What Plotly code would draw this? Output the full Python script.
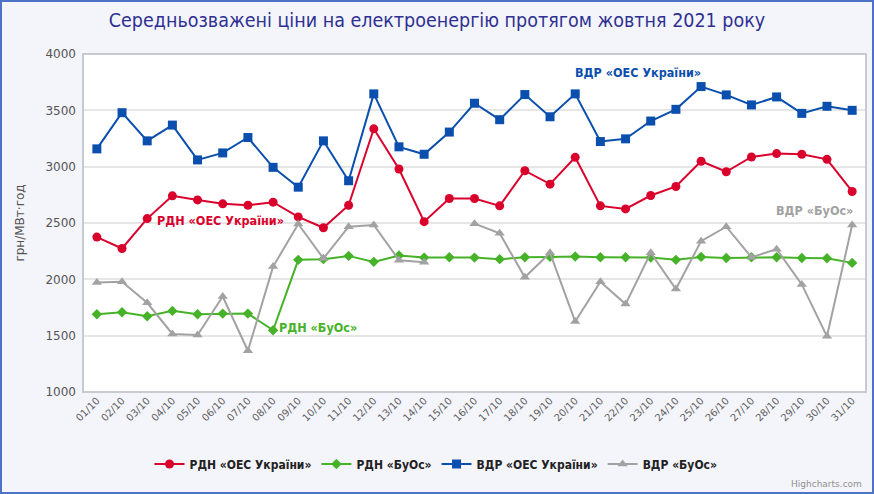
import plotly.graph_objects as go

days = [f"{d:02d}/10" for d in range(1, 32)]

rdn_oes = [2375, 2274, 2539, 2741, 2705, 2670, 2658, 2685, 2554, 2458, 2658,
           3336, 2979, 2512, 2717, 2717, 2652, 2964, 2845, 3083,
           2652, 2625, 2744, 2824, 3048, 2955, 3086, 3116, 3110, 3065, 2780]
rdn_buos = [1690, 1708, 1673, 1720, 1690, 1696, 1696, 1548, 2173, 2179, 2208,
            2155, 2211, 2193, 2196, 2193, 2179, 2196, 2199, 2202,
            2196, 2196, 2193, 2173, 2199, 2190, 2196, 2196, 2190, 2187, 2146]
vdr_oes = [3158, 3479, 3229, 3369, 3060, 3122, 3259, 2994, 2818, 3229, 2875,
           3646, 3176, 3110, 3307, 3563, 3417, 3640, 3443, 3646,
           3223, 3247, 3405, 3509, 3711, 3637, 3548, 3619, 3473, 3536, 3500]
vdr_buos = [1973, 1979, 1792, 1515, 1506, 1848, 1366, 2113, 2491, 2185, 2467,
            2482, 2170, 2152, None, 2494, 2408, 2018, 2235, 1625,
            1979, 1780, 2235, 1914, 2339, 2467, 2196, 2268, 1955, 1494, 2482]

names = ["РДН «ОЕС України»", "РДН «БуОс»", "ВДР «ОЕС України»", "ВДР «БуОс»"]
colors = ["#d9002c", "#45b227", "#0b4fae", "#a2a2a2"]
symbols = ["circle", "diamond", "square", "triangle-up"]
sizes = [9, 8, 9, 9]
series = [rdn_oes, rdn_buos, vdr_oes, vdr_buos]

# label anchors (category index, value)
label_x = [4.9, 8.8, 21.5, 28.5]
label_y = [2518, 1571, 3839, 2607]

fig = go.Figure()
for name, vals, c, s, sz in zip(names, series, colors, symbols, sizes):
    fig.add_trace(go.Scatter(
        x=days, y=vals, name=name, mode="lines+markers",
        line=dict(color=c, width=2),
        marker=dict(color=c, symbol=s, size=sz),
        connectgaps=False,
    ))

for name, c, lx, ly in zip(names, colors, label_x, label_y):
    fig.add_annotation(x=lx, y=ly, xref="x", yref="y", text=f"<b>{name}</b>",
                       showarrow=False,
                       font=dict(family="DejaVu Sans Condensed", size=12.5, color=c))

L, R, T, B = 83, 8, 54, 102
W, H = 874, 494
pw, ph = W - L - R, H - T - B

# outer border
fig.add_shape(type="rect", xref="paper", yref="paper",
              x0=-(L - 1) / pw, x1=(W - L - 1) / pw,
              y0=-(B - 1) / ph, y1=1 + (T - 1) / ph,
              line=dict(color="#4f72c9", width=2), layer="below")
# plot border
fig.add_shape(type="rect", xref="paper", yref="paper", x0=0, x1=1, y0=0, y1=1,
              line=dict(color="#c9c9d2", width=2), layer="above")

fig.add_annotation(xref="paper", yref="paper", x=(W - L - 10) / pw, y=-(B - 3) / ph,
                   xanchor="right", yanchor="bottom", showarrow=False,
                   text="Highcharts.com",
                   font=dict(family="DejaVu Sans", size=9, color="#909090"))

fig.update_layout(
    width=W, height=H,
    margin=dict(l=L, r=R, t=T, b=B, autoexpand=False),
    paper_bgcolor="#f4f4fb",
    plot_bgcolor="#ffffff",
    title=dict(text="Середньозважені ціни на електроенергію протягом жовтня 2021 року",
               x=0.5, xref="container", xanchor="center", y=1 - 20 / H, yanchor="middle",
               font=dict(family="DejaVu Sans Condensed", size=19.5, color="#2e3192")),
    xaxis=dict(type="category", range=[-0.55, 30.55], tickangle=-45,
               showgrid=False, zeroline=False, ticks="",
               tickfont=dict(family="DejaVu Sans", size=10, color="#606060")),
    yaxis=dict(range=[1000, 4000], dtick=500, gridcolor="#e6e6e6", gridwidth=1.5,
               zeroline=False, ticks="", ticklabelstandoff=6,
               title=dict(text="грн/МВт·год", standoff=18,
                          font=dict(family="DejaVu Sans", size=12, color="#555555")),
               tickfont=dict(family="DejaVu Sans", size=12, color="#555555")),
    legend=dict(orientation="h", x=(436 - L) / pw, xanchor="center", y=-(464 - 392) / ph,
                yanchor="middle", bgcolor="rgba(0,0,0,0)", itemwidth=30,
                font=dict(family="DejaVu Sans Condensed", size=12, color="#222222",
                          weight="bold")),
    showlegend=True,
)

fig.write_html("out.html", config={"displayModeBar": False},
               post_script="document.body.style.margin='0';document.body.style.padding='0';")
